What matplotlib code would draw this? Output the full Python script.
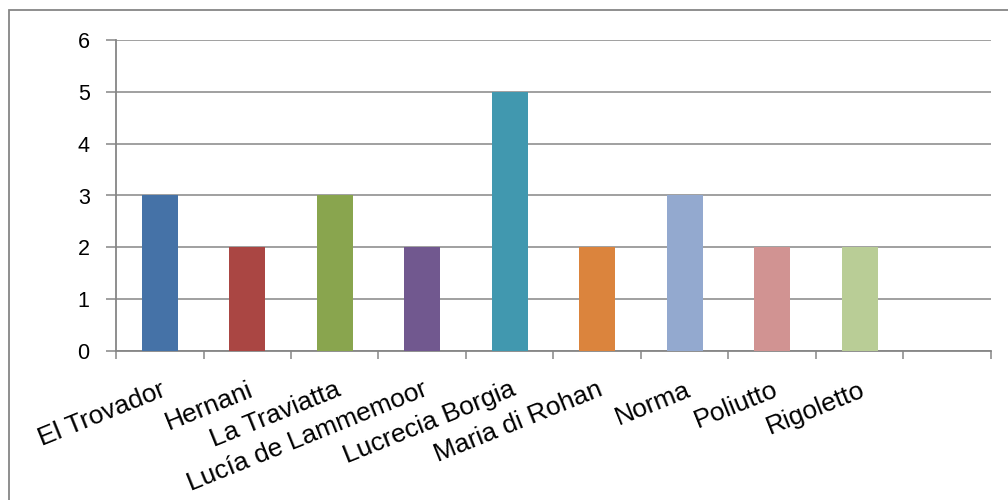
import matplotlib.pyplot as plt
from matplotlib.patches import Rectangle

plt.rcParams['font.family'] = ['Liberation Sans', 'DejaVu Sans']

# Datos
operas = ['El Trovador', 'Hernani', 'La Traviatta', 'Lucía de Lammemoor',
          'Lucrecia Borgia', 'Maria di Rohan', 'Norma', 'Poliutto', 'Rigoletto']
counts = [3, 2, 3, 2, 5, 2, 3, 2, 2]
colors = ['#4572A7', '#AA4643', '#89A54E', '#71588F', '#4198AF',
          '#DB843D', '#93A9CF', '#D19392', '#B9CD96']
n_slots = 10  # hay un hueco vacío al final
y_ticks = [0, 1, 2, 3, 4, 5, 6]

fig = plt.figure(figsize=(10.08, 5.0), dpi=100)
ax = fig.add_axes([0.1151, 0.298, 0.983 - 0.1151, 0.92 - 0.298])

gray = '#868686'
centers = [i + 0.5 for i in range(len(operas))]
ax.bar(centers, counts, width=0.41, color=colors, zorder=3)

ax.set_xlim(0, n_slots)
ax.set_ylim(0, 6)
ax.set_yticks(y_ticks)
ax.yaxis.grid(True, color=gray, linewidth=1.1, zorder=0)

# marcas en los límites de cada categoría, etiquetas en el centro
ax.set_xticks(range(n_slots + 1))
ax.set_xticklabels([])
ax.set_xticks(centers, minor=True)
ax.set_xticklabels(operas, minor=True, rotation=22, ha='right',
                   rotation_mode='anchor', va='top', fontsize=19)
ax.tick_params(axis='x', which='minor', length=0, pad=19)
ax.tick_params(axis='x', which='major', length=6, width=1.1, color=gray)
ax.tick_params(axis='y', length=7, width=1.1, color=gray, labelsize=15.5, pad=12)

for side in ['top', 'right']:
    ax.spines[side].set_visible(False)
for side in ['left', 'bottom']:
    ax.spines[side].set_color(gray)
    ax.spines[side].set_linewidth(1.3)

# borde del gráfico
fig.patches.append(Rectangle((0.0089, -0.1), 1.2, 1.08, transform=fig.transFigure,
                             fill=False, edgecolor=gray, linewidth=1.3))

fig.savefig('out.png', dpi=100)
